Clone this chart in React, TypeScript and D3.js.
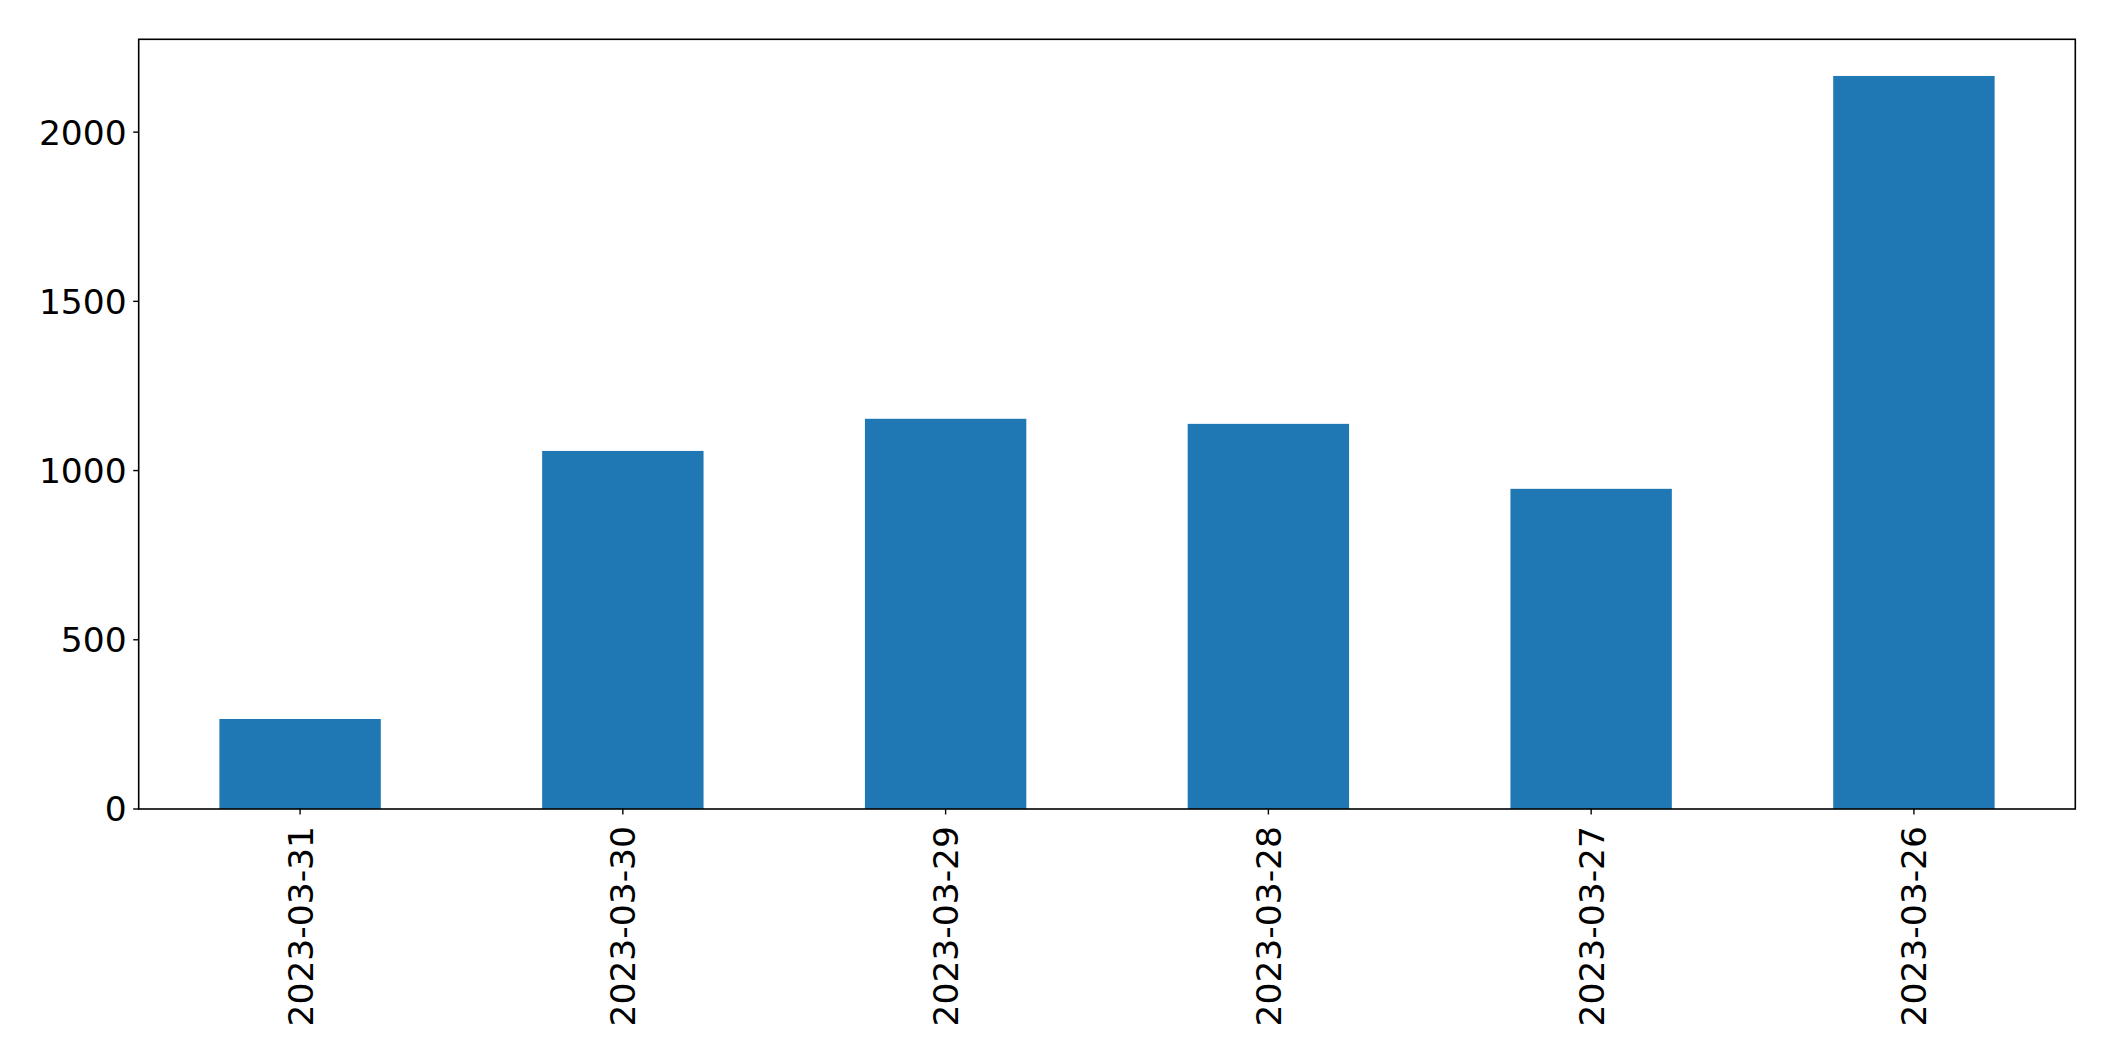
import React from "react";
import * as d3 from "d3";

const categories = ["2023-03-31", "2023-03-30", "2023-03-29", "2023-03-28", "2023-03-27", "2023-03-26"];
const values = [266, 1058, 1153, 1138, 946, 2166];
const yTicks = [0, 500, 1000, 1500, 2000];

const W = 2115;
const H = 1061;
const M = { left: 138.7, right: 2075.3, top: 39.3, bottom: 809 };
const FONT = "DejaVu Sans, sans-serif";
const FS = 34.5;

export default function App() {
  const x = d3.scaleBand<string>().domain(categories).range([M.left, M.right]).paddingInner(0.5).paddingOuter(0.25);
  const y = d3.scaleLinear().domain([0, d3.max(values)! * 1.05]).range([M.bottom, M.top]);
  return (
    <svg width={W} height={H} style={{ position: "absolute", left: 0, top: 0, background: "#fff" }}>
      <rect x={0} y={0} width={W} height={H} fill="#fff" />
      {categories.map((c, i) => (
        <rect key={c} x={x(c)!} y={y(values[i])} width={x.bandwidth()} height={y(0) - y(values[i])} fill="#1f77b4" />
      ))}
      <rect x={M.left} y={M.top} width={M.right - M.left} height={M.bottom - M.top} fill="none" stroke="#000" strokeWidth={1.6} />
      {yTicks.map((t) => (
        <g key={t}>
          <line x1={M.left - 5.5} x2={M.left} y1={y(t)} y2={y(t)} stroke="#000" strokeWidth={1.4} />
          <text x={M.left - 12} y={y(t)} dy="0.36em" textAnchor="end" fontFamily={FONT} fontSize={FS} fill="#000">{t}</text>
        </g>
      ))}
      {categories.map((c) => {
        const cx = x(c)! + x.bandwidth() / 2;
        return (
          <g key={c}>
            <line x1={cx} x2={cx} y1={M.bottom} y2={M.bottom + 5.5} stroke="#000" strokeWidth={1.4} />
            <text transform={`translate(${cx},${M.bottom + 17}) rotate(-90)`} dy="0.36em" textAnchor="end" fontFamily={FONT} fontSize={FS} fill="#000">{c}</text>
          </g>
        );
      })}
    </svg>
  );
}
